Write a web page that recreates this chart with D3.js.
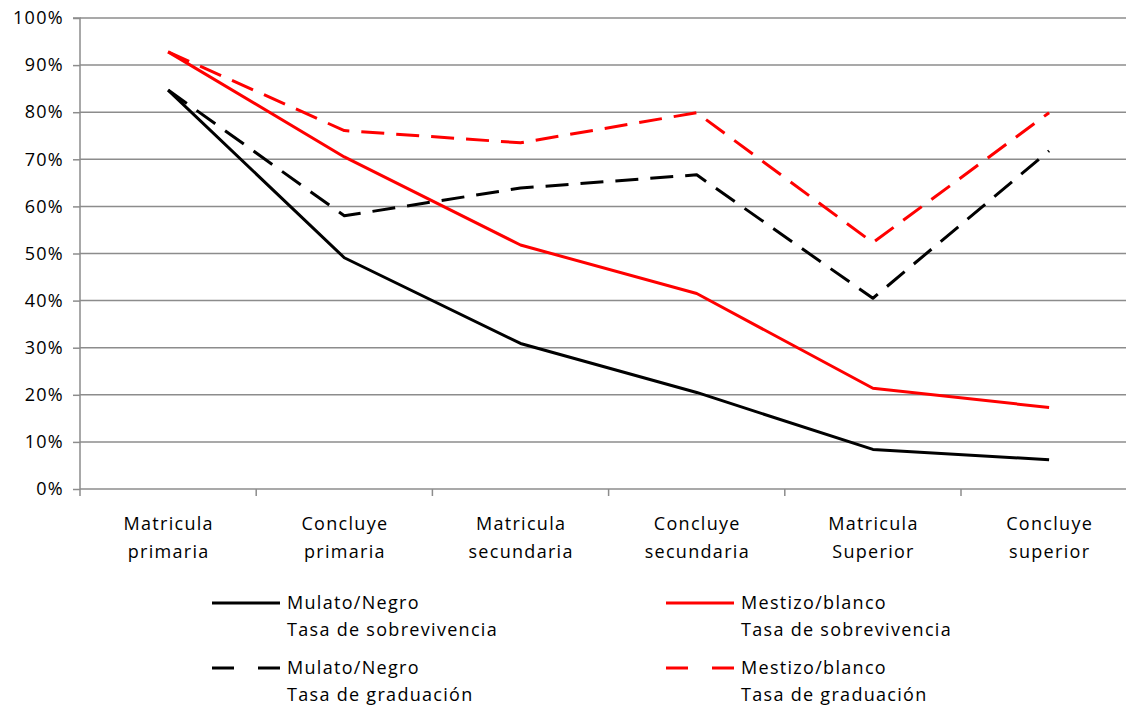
<!DOCTYPE html>
<html><head><meta charset="utf-8">
<script src="https://cdn.jsdelivr.net/npm/d3@7/dist/d3.min.js"></script>
<style>body{margin:0;background:#fff}svg{display:block}text{font-family:"Open Sans","Liberation Sans",sans-serif;fill:#000;letter-spacing:1.3px}</style>
</head><body><svg id="c" width="1126" height="708"></svg>
<script>
const categories = [["Matricula","primaria"],["Concluye","primaria"],["Matricula","secundaria"],["Concluye","secundaria"],["Matricula","Superior"],["Concluye","superior"]];
const mulatoSobrevivencia = [84.7, 49.1, 30.9, 20.5, 8.4, 6.2];
const mestizoSobrevivencia = [92.8, 70.5, 51.8, 41.5, 21.4, 17.3];
const mulatoGraduacion = [84.7, 58.0, 63.9, 66.7, 40.5, 71.8];
const mestizoGraduacion = [92.8, 76.1, 73.5, 79.9, 52.3, 79.9];
const yTicks = [0,10,20,30,40,50,60,70,80,90,100];
const seriesNames = [["Mulato/Negro","Tasa de sobrevivencia"],["Mestizo/blanco","Tasa de sobrevivencia"],["Mulato/Negro","Tasa de graduación"],["Mestizo/blanco","Tasa de graduación"]];

const series = [
  {name: seriesNames[0], values: mulatoSobrevivencia, color: "#000", dash: null},
  {name: seriesNames[1], values: mestizoSobrevivencia, color: "#ff0000", dash: null},
  {name: seriesNames[2], values: mulatoGraduacion, color: "#000", dash: "23,12"},
  {name: seriesNames[3], values: mestizoGraduacion, color: "#ff0000", dash: "23,12"}
];

const svg = d3.select("#c");
const L = 80, R = 80 + 6*176.2, T = 18, B = 489;
const x = d3.scaleBand().domain(d3.range(6)).range([L, R]).paddingInner(0).paddingOuter(0);
const y = d3.scaleLinear().domain([0,100]).range([B, T]);

// gridlines
svg.append("g").selectAll("line").data(yTicks.filter(d=>d>0)).join("line")
  .attr("x1", L).attr("x2", R).attr("y1", d=>y(d)).attr("y2", d=>y(d))
  .attr("stroke", "#8c8c8c").attr("stroke-width", 1.5);

// y axis
const yAxis = svg.append("g").attr("transform", `translate(${L},0)`)
  .call(d3.axisLeft(y).tickValues(yTicks).tickFormat(d=>d+"%").tickSize(7).tickPadding(9));
yAxis.select(".domain").attr("stroke", "#8c8c8c").attr("stroke-width", 1.5).attr("d", `M-7,${T}H0V${B}`);
yAxis.selectAll(".tick line").attr("stroke", "#8c8c8c").attr("stroke-width", 1.5);
yAxis.selectAll(".tick text").attr("font-size", 18).attr("fill", "#000").attr("font-family", '"Open Sans","Liberation Sans",sans-serif');

// x axis
const xg = svg.append("g");
xg.append("line").attr("x1", L).attr("x2", R).attr("y1", B).attr("y2", B).attr("stroke", "#8c8c8c").attr("stroke-width", 1.5);
xg.selectAll("line.t").data(d3.range(7)).join("line").attr("class","t")
  .attr("x1", d=>L + d*x.bandwidth()).attr("x2", d=>L + d*x.bandwidth())
  .attr("y1", B).attr("y2", B+7).attr("stroke", "#8c8c8c").attr("stroke-width", 1.5);
const xl = xg.selectAll("text").data(categories).join("text")
  .attr("text-anchor", "middle").attr("font-size", 18)
  .attr("transform", (d,i)=>`translate(${x(i)+x.bandwidth()/2 + 0.6},0)`);
xl.append("tspan").attr("x",0).attr("y",530).text(d=>d[0]);
xl.append("tspan").attr("x",0).attr("y",558).text(d=>d[1]);

// lines
const line = d3.line().x((d,i)=>x(i)+x.bandwidth()/2).y(d=>y(d));
svg.append("g").selectAll("path").data(series).join("path")
  .attr("d", d=>line(d.values)).attr("fill","none")
  .attr("stroke", d=>d.color).attr("stroke-width", 3)
  .attr("stroke-dasharray", d=>d.dash).attr("stroke-linejoin","round");

// legend
const legPos = [[212,603],[666,603],[212,668],[666,668]];
const lg = svg.append("g").selectAll("g").data(series).join("g")
  .attr("transform", (d,i)=>`translate(${legPos[i][0]},${legPos[i][1]})`);
lg.append("line").attr("x1",0).attr("x2",68).attr("y1",0).attr("y2",0)
  .attr("stroke", d=>d.color).attr("stroke-width",3)
  .attr("stroke-dasharray", d=>d.dash ? "22,24" : null);
const lt = lg.append("text").attr("font-size",18);
lt.append("tspan").attr("x",75).attr("y",6).text(d=>d.name[0]);
lt.append("tspan").attr("x",75).attr("y",33).text(d=>d.name[1]);
</script></body></html>
